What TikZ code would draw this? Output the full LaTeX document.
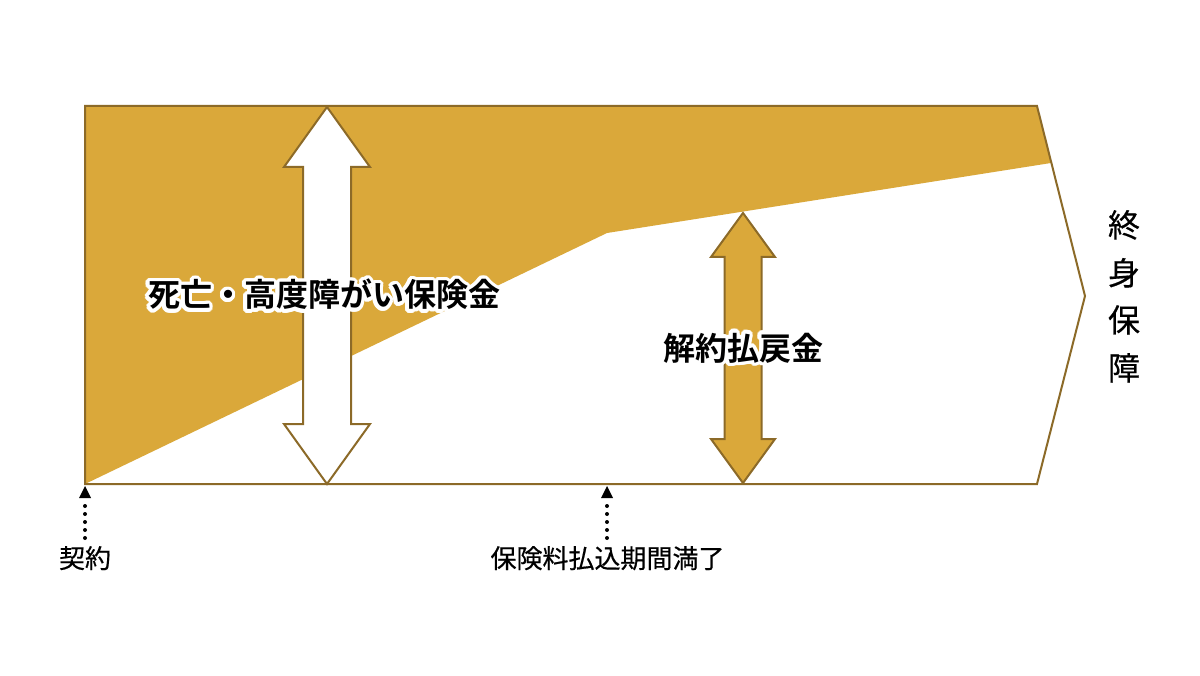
\documentclass[tikz,border=0pt]{standalone}
\usepackage{fontspec}
\setmainfont{Noto Sans CJK JP}
\newfontfamily\cjkbold{Noto Sans CJK JP Bold}
\newfontfamily\cjkmed[FakeBold=0.5]{Noto Sans CJK JP}
\usetikzlibrary{calc}
\definecolor{gold}{HTML}{DAA83A}
\definecolor{goldline}{HTML}{8C6A28}
\tikzset{
  goldfill/.style={fill=gold},
  outline/.style={draw=goldline, line width=2pt, line join=miter},
  bigtext/.style={font=\cjkbold\fontsize{32}{32}\selectfont, inner sep=0pt, anchor=base},
  sidetext/.style={font=\cjkmed\fontsize{32}{32}\selectfont, inner sep=0pt, anchor=base},
  smalltext/.style={font=\cjkmed\fontsize{26}{26}\selectfont, inner sep=0pt, anchor=base},
  dotline/.style={line width=4pt, line cap=round, dash pattern=on 0pt off 8pt},
}
\newcommand\dblarrowshape[7]{% cx, top, bot, headhalf, headh, shafthalf, style
  \draw[#7] (#1,#2) -- (#1+#4,#2+#5) -- (#1+#6,#2+#5) -- (#1+#6,#3-#5) -- (#1+#4,#3-#5)
    -- (#1,#3) -- (#1-#4,#3-#5) -- (#1-#6,#3-#5) -- (#1-#6,#2+#5) -- (#1-#4,#2+#5) -- cycle;}
\newcommand\halotext[3]{% position, name, text
  \foreach \ang in {0,20,...,340}
    \node[bigtext, text=white] at ($(#1)+(\ang:3.8)$) {#3};
  \node[bigtext] (#2) at (#1) {#3};}
\begin{document}
\begin{tikzpicture}[x=1pt,y=-1pt]
\useasboundingbox (0,0) rectangle (1200,676);
\fill[white] (0,0) rectangle (1200,676);
% gold area
\fill[goldfill] (85,106) -- (1037,106) -- (1051,163) -- (607,233) -- (85,484) -- cycle;
% outer outline
\draw[outline] (85,106) -- (1037,106) -- (1085,296) -- (1037,484) -- (85,484) -- cycle;
% white double arrow
\dblarrowshape{327}{107}{484}{43}{60}{24}{outline, fill=white}
% gold double arrow
\dblarrowshape{743}{213}{483}{32}{44}{18.5}{outline, fill=gold}
% labels
\coordinate (l1) at (324,307);
\halotext{l1}{death}{死亡・高度障がい保険金}
\coordinate (l2) at (743,360);
\halotext{l2}{surrender}{解約払戻金}
% vertical text
\node[sidetext] (v1) at (1124,237) {終};
\node[sidetext] (v2) at (1124,285) {身};
\node[sidetext] (v3) at (1124,332) {保};
\node[sidetext] (v4) at (1124,380) {障};
% bottom labels
\node[smalltext] (contract) at (85,568) {契約};
\node[smalltext] (payend) at (607.5,568) {保険料払込期間満了};
% dotted arrows
\coordinate (c1s) at (85,538);
\coordinate (c1e) at (85,502);
\coordinate (c2s) at (607,538);
\coordinate (c2e) at (607,502);
\draw[dotline] (c1s) -- (c1e);
\draw[dotline] (c2s) -- (c2e);
\fill (85,486) -- (91,498) -- (79,498) -- cycle;
\fill (607,486) -- (613,498) -- (601,498) -- cycle;
\end{tikzpicture}
\end{document}
